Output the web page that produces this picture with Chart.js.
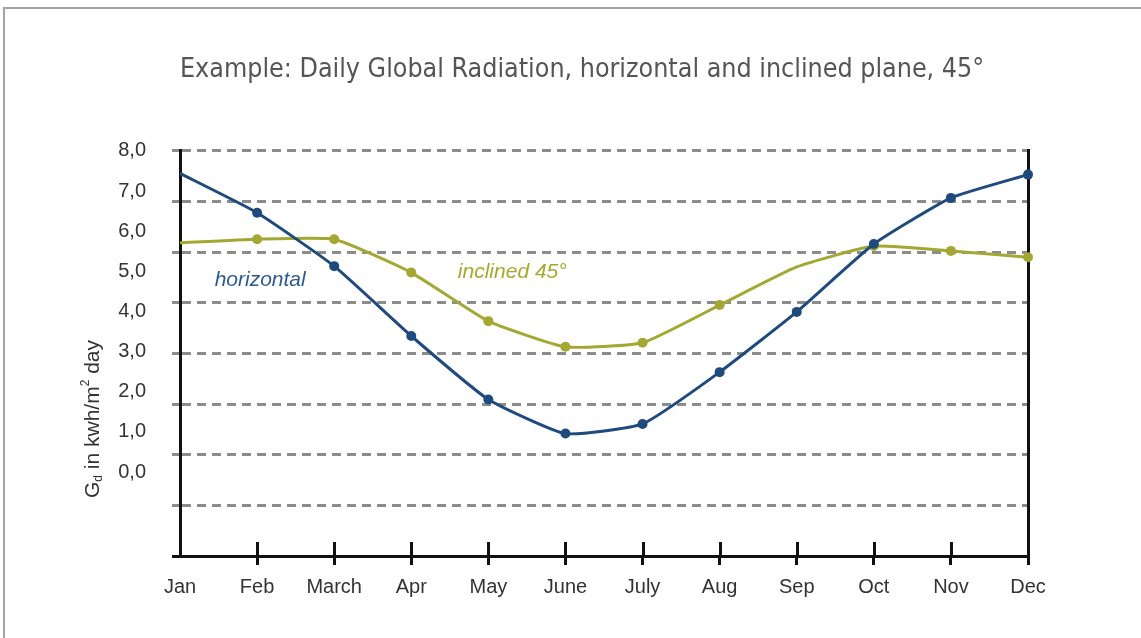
<!DOCTYPE html>
<html>
<head>
<meta charset="utf-8">
<script src="https://cdn.jsdelivr.net/npm/chart.js@4.4.0/dist/chart.umd.min.js"></script>
<style>
html,body{margin:0;padding:0;background:#fff;overflow:hidden;}
#marco{position:absolute;left:3px;top:7px;width:1200px;height:700px;border:2px solid #a3a3a3;}
#caja{position:absolute;left:0;top:0;width:1141px;height:638px;}
</style>
</head>
<body>
<div id="marco"></div>
<div id="caja"><canvas id="grafica" width="1141" height="638"></canvas></div>
<script>
//------------------Datos de la grafica-------------------------------------------
var meses = ['Jan','Feb','March','Apr','May','June','July','Aug','Sep','Oct','Nov','Dec'];
var horizontal = [7.44,6.46,5.13,3.39,1.81,0.96,1.20,2.49,3.99,5.68,6.83,7.41];
var inclinado = [5.71,5.80,5.80,4.97,3.76,3.12,3.22,4.16,5.11,5.63,5.51,5.35];
var marcasY = [0,1,2,3,4,5,6,7,8];
var puntosH = [0,5,5,5,5,5,5,5,5,5,5,5];
var puntosI = [0,5,5,5,5,5,5,5,0,5,5,5];

var azul = '#1f4a7e';
var oliva = '#a3a832';
var letra = 'Liberation Sans, Arial, sans-serif';

//-----------------Etiquetas dentro de la grafica----------------------------
var notas = [
    {texto:'horizontal', x:1.04, y:4.77, color:'#2e5a91'},
    {texto:'inclined 45\u00b0', x:4.31, y:4.98, color:'#a5aa2e'}
];

var notasPlugin = {
    id: 'notas',
    afterDatasetsDraw: function(chart) {
        var ctx = chart.ctx;
        ctx.save();
        ctx.font = 'italic 21px ' + letra;
        ctx.textAlign = 'center';
        ctx.textBaseline = 'middle';
        notas.forEach(function(n) {
            ctx.fillStyle = n.color;
            ctx.fillText(n.texto, chart.scales.x.getPixelForValue(n.x), chart.scales.y.getPixelForValue(n.y));
        });
        ctx.restore();
    }
};

//-----------------Marcas del eje x hacia dentro----------------------------
var marcasPlugin = {
    id: 'marcas',
    afterDraw: function(chart) {
        var ctx = chart.ctx;
        var esc = chart.scales.x;
        var abajo = chart.chartArea.bottom;
        ctx.save();
        ctx.strokeStyle = '#111';
        ctx.lineWidth = 3;
        for (var i = 1; i < meses.length - 1; i++) {
            var px = Math.round(esc.getPixelForTick(i)) + 0.5;
            ctx.beginPath();
            ctx.moveTo(px, abajo - 14);
            ctx.lineTo(px, abajo);
            ctx.stroke();
        }
        ctx.restore();
    }
};

//-----------------Titulo del eje y con subindice----------------------------
var ejePlugin = {
    id: 'ejeTitulo',
    afterDraw: function(chart) {
        var ctx = chart.ctx;
        var partes = [
            {t:'G', s:21, dy:0},
            {t:'d', s:12, dy:6},
            {t:' in kwh/m', s:21, dy:0},
            {t:'2', s:12, dy:-7},
            {t:' day', s:21, dy:0}
        ];
        ctx.save();
        ctx.translate(93, 419);
        ctx.rotate(-Math.PI / 2);
        ctx.fillStyle = '#333';
        ctx.textBaseline = 'middle';
        var total = 0;
        partes.forEach(function(p) {
            ctx.font = p.s + 'px ' + letra;
            total += ctx.measureText(p.t).width;
        });
        var x = -total / 2;
        partes.forEach(function(p) {
            ctx.font = p.s + 'px ' + letra;
            ctx.fillText(p.t, x, p.dy);
            x += ctx.measureText(p.t).width;
        });
        ctx.restore();
    }
};

dibujar();
function dibujar()
{
    var c = document.getElementById("grafica");
    const data = {
        labels: meses,
        datasets: [{
            label: 'horizontal',
            data: horizontal,
            borderColor: azul,
            backgroundColor: azul,
            borderWidth: 3,
            pointRadius: puntosH,
            pointBorderWidth: 0,
            tension: 0.15,
            yAxisID: 'y'
        },{
            label: 'inclined 45\u00b0',
            data: inclinado,
            borderColor: oliva,
            backgroundColor: oliva,
            borderWidth: 3,
            pointRadius: puntosI,
            pointBorderWidth: 0,
            tension: 0.15,
            yAxisID: 'y'
        }]
    };
    const config = {
        type: 'line',
        data: data,
        options: {
            responsive: false,
            animation: false,
            events: [],
            layout: { padding: { left: 0, right: 113, top: 0, bottom: 29 } },
            plugins: {
                legend: false,
                tooltip: { enabled: false },
                title: {
                    display: true,
                    text: 'Example: Daily Global Radiation, horizontal and inclined plane, 45\u00b0',
                    align: 'start',
                    fullSize: false,
                    color: '#555',
                    font: { family: "'Liberation Sans Narrow', 'DejaVu Sans Condensed', sans-serif", size: 26.6, weight: 'normal' },
                    padding: { top: 54, bottom: 65 }
                }
            },
            scales: {
                x: {
                    type: 'category',
                    offset: false,
                    grid: {
                        display: true,
                        drawOnChartArea: false,
                        drawTicks: true,
                        tickLength: 9,
                        tickWidth: 3,
                        tickColor: function(ctx) { return ctx.index === 0 ? 'rgba(0,0,0,0)' : '#111'; },
                        lineWidth: 3
                    },
                    border: { display: true, color: '#111', width: 3 },
                    ticks: { color: '#333', font: { family: letra, size: 20 }, padding: 10, maxRotation: 0, autoSkip: false }
                },
                y: {
                    position: 'left',
                    weight: 1,
                    min: -2.09,
                    max: 8,
                    afterBuildTicks: function(s) { s.ticks = marcasY.map(function(v) { return {value: v}; }); },
                    afterFit: function(s) { s.width = 172; },
                    grid: { display: false, drawTicks: false },
                    border: { display: false },
                    ticks: {
                        color: '#333',
                        font: { family: letra, size: 20 },
                        padding: 26,
                        callback: function(v) { return v.toFixed(1).replace('.', ','); }
                    }
                },
                g: {
                    type: 'linear',
                    position: 'left',
                    weight: 0,
                    min: 0,
                    max: 8,
                    afterFit: function(s) { s.width = 8; },
                    ticks: { display: false, stepSize: 1 },
                    grid: {
                        color: '#8c8c8c',
                        lineWidth: 3,
                        drawTicks: true,
                        tickLength: 8,
                        tickWidth: 3,
                        tickColor: function(ctx) { return ctx.tick && ctx.tick.value === 0 ? '#111' : '#8c8c8c'; }
                    },
                    border: { display: true, color: '#111', width: 3, dash: [9, 6] }
                },
                r: {
                    type: 'linear',
                    position: 'right',
                    min: 0,
                    max: 8,
                    afterFit: function(s) { s.width = 0; },
                    ticks: { display: false },
                    grid: { display: false, drawTicks: false },
                    border: { display: true, color: '#111', width: 3 }
                }
            }
        },
        plugins: [notasPlugin, marcasPlugin, ejePlugin]
    };

    var chart = new Chart(c, config);
}
</script>
</body>
</html>
